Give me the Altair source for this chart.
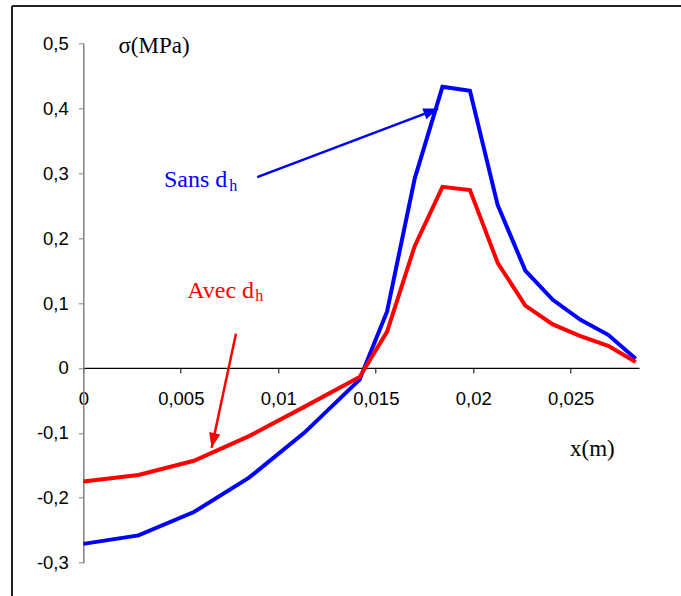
import math
import altair as alt
import pandas as pd

# ---- data ----
x_m = [0, 0.00283, 0.00567, 0.0085, 0.01133, 0.01417, 0.01558, 0.017,
       0.01842, 0.01983, 0.02125, 0.02267, 0.02408, 0.0255, 0.02692, 0.02833]
sans_dh = [-0.271, -0.258, -0.222, -0.169, -0.100, -0.018, 0.087, 0.292,
           0.433, 0.427, 0.251, 0.150, 0.105, 0.074, 0.051, 0.014]
avec_dh = [-0.175, -0.165, -0.143, -0.105, -0.060, -0.014, 0.056, 0.188,
           0.279, 0.274, 0.162, 0.096, 0.067, 0.049, 0.034, 0.009]

x_ticks = [0, 0.005, 0.01, 0.015, 0.02, 0.025]
y_ticks = [-0.3, -0.2, -0.1, 0, 0.1, 0.2, 0.3, 0.4, 0.5]

# annotation arrows (start -> tip, data coordinates)
arrow_names = ["Sans", "Avec"]
arrow_x0 = [0.00892, 0.00783]
arrow_y0 = [0.294, 0.0528]
arrow_x1 = [0.0182, 0.00658]
arrow_y1 = [0.3995, -0.123]
arrow_colors = ["#0000FF", "#FF0000"]

# texts
text_labels = ["σ(MPa)", "x(m)"]
text_x = [0.00180, 0.02496]
text_y = [0.4854, -0.1351]
text_colors = ["black", "black"]
leg_labels = ["Sans d", "Avec d"]
leg_x = [0.00414, 0.00533]
leg_y = [0.2794, 0.1079]
leg_colors = ["#0000FF", "#FF0000"]
sub_labels = ["h", "h"]
sub_x = [0.00748, 0.00882]
sub_y = [0.2732, 0.1026]
sub_colors = ["#0000FF", "#FF0000"]

# ---- layout ----
W, H = 555.7, 519.4
xdom = [0, 0.0285]
ydom = [-0.3, 0.5]
pxx = W / (xdom[1] - xdom[0])
pxy = H / (ydom[1] - ydom[0])

xs = alt.Scale(domain=xdom, nice=False, zero=False)
ys = alt.Scale(domain=ydom, nice=False, zero=False)

df_sans = pd.DataFrame({"x": x_m, "y": sans_dh})
df_avec = pd.DataFrame({"x": x_m, "y": avec_dh})

angles = []
for a, b, c, d in zip(arrow_x0, arrow_y0, arrow_x1, arrow_y1):
    ang = math.degrees(math.atan2((c - a) * pxx, (d - b) * pxy)) % 360
    angles.append(ang)
df_arrows = pd.DataFrame({"name": arrow_names, "x0": arrow_x0, "y0": arrow_y0,
                          "x1": arrow_x1, "y1": arrow_y1, "color": arrow_colors,
                          "angle": angles})
df_text = pd.DataFrame({"t": text_labels, "x": text_x, "y": text_y, "c": text_colors})
df_leg = pd.DataFrame({"t": leg_labels, "x": leg_x, "y": leg_y, "c": leg_colors})
df_sub = pd.DataFrame({"t": sub_labels, "x": sub_x, "y": sub_y, "c": sub_colors})

x_axis = alt.Axis(values=x_ticks,
                  labelExpr="replace(toString(round(datum.value*1000)/1000), '.', ',')",
                  offset=-H * (0 - ydom[0]) / (ydom[1] - ydom[0]),
                  domainColor="black", tickColor="black", tickSize=5, domainWidth=1.2,
                  labelPadding=17, labelFont="Liberation Sans", labelFontSize=18.5,
                  labelColor="black", title=None, grid=False, labelFlush=False,
                  labelOverlap=False)
y_axis = alt.Axis(values=y_ticks,
                  labelExpr="replace(toString(round(datum.value*10)/10), '.', ',')",
                  domainColor="#808080", tickColor="#808080", tickSize=5, domainWidth=1.5,
                  labelPadding=10, labelFont="Liberation Sans", labelFontSize=18.5,
                  labelColor="black", title=None, grid=False, labelOverlap=False)


def X(field):
    return alt.X(field, scale=xs, axis=x_axis)


def Y(field):
    return alt.Y(field, scale=ys, axis=y_axis)


blue = alt.Chart(df_sans).mark_line(color="#0000FF", strokeWidth=4, strokeJoin="miter").encode(
    x=X("x:Q"), y=Y("y:Q"))
red = alt.Chart(df_avec).mark_line(color="#FF0000", strokeWidth=4, strokeJoin="miter").encode(
    x=X("x:Q"), y=Y("y:Q"))

arrow_lines = alt.Chart(df_arrows).mark_rule(strokeWidth=2.5).encode(
    x=X("x0:Q"), y=Y("y0:Q"), x2="x1:Q", y2="y1:Q",
    color=alt.Color("color:N", scale=None, legend=None),
)
arrow_heads = alt.Chart(df_arrows).mark_point(
    shape="M0,0 L1,2.6 L-1,2.6 Z", size=130, filled=True, opacity=1, strokeWidth=0
).encode(
    x=X("x1:Q"), y=Y("y1:Q"),
    color=alt.Color("color:N", scale=None, legend=None),
    angle=alt.Angle("angle:Q", scale=None),
)

texts = alt.Chart(df_text).mark_text(
    font="Liberation Serif", fontSize=23, align="left", baseline="alphabetic"
).encode(x=X("x:Q"), y=Y("y:Q"), text="t:N",
         color=alt.Color("c:N", scale=None, legend=None))
legs = alt.Chart(df_leg).mark_text(
    font="Liberation Serif", fontSize=24, align="left", baseline="alphabetic"
).encode(x=X("x:Q"), y=Y("y:Q"), text="t:N",
         color=alt.Color("c:N", scale=None, legend=None))
subs = alt.Chart(df_sub).mark_text(
    font="Liberation Serif", fontSize=16, align="left", baseline="alphabetic"
).encode(x=X("x:Q"), y=Y("y:Q"), text="t:N",
         color=alt.Color("c:N", scale=None, legend=None))

frame_left = alt.Chart(df_sans).mark_rule(color="#222222", strokeWidth=1.5).encode(
    x=alt.value(-71.3), y=alt.value(-37.3), y2=alt.value(H + 40))
frame_top = alt.Chart(df_sans).mark_rule(color="#222222", strokeWidth=1.5).encode(
    x=alt.value(-71.3), x2=alt.value(W + 50), y=alt.value(-37.3))

chart = alt.layer(blue, red, arrow_lines, arrow_heads, texts, legs, subs,
                  frame_left, frame_top).properties(
    width=W, height=H,
    autosize=alt.AutoSizeParams(type="none"),
    padding={"left": 83.3, "top": 43.3, "right": 42, "bottom": 33.3},
    background="white",
).configure_view(stroke=None)

chart.save("out.html", embed_options={"renderer": "svg", "actions": False})
